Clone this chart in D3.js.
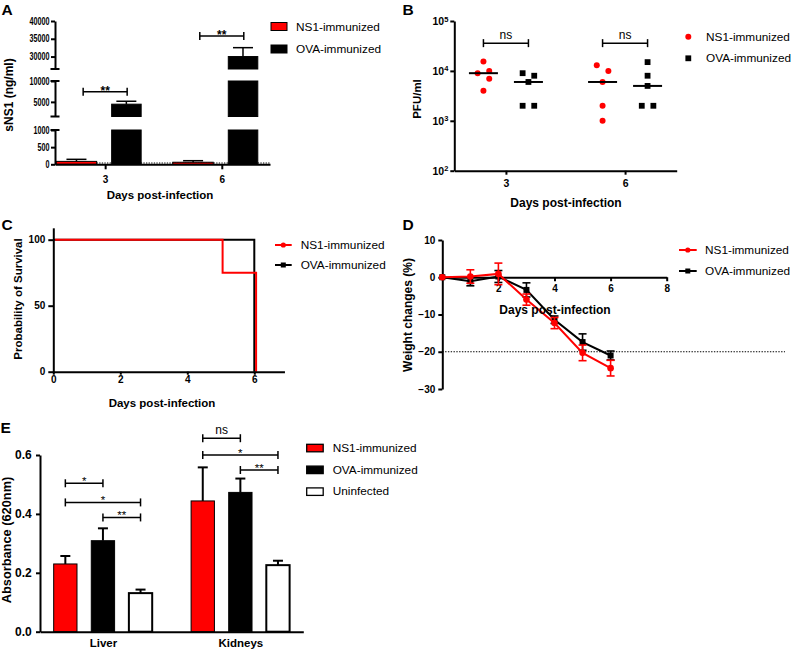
<!DOCTYPE html>
<html><head><meta charset="utf-8">
<script src="https://cdn.jsdelivr.net/npm/d3@7"></script>
<style>
body{margin:0;background:#fff;}
svg{display:block;}
</style></head><body>
<svg id="chart" width="792" height="651"></svg>
<script>
// ---------------- DATA ----------------
const seriesNames = ["NS1-immunized", "OVA-immunized", "Uninfected"];
const seriesColors = ["#ff0000", "#000000", "#ffffff"];

// Panel A: sNS1 (ng/ml)
const aDays = [3, 6];
const aNS1 = [85, 60];
const aNS1Err = [60, 45];
const aOVA = [4450, 30000];
const aOVAErr = [700, 2500];
const aSig = ["**", "**"];
const aSigLevel = [7400, 35800];
const aTicksLow = [0, 500, 1000];
const aTicksMid = [5000, 10000];
const aTicksHigh = [30000, 35000, 40000];

// Panel B: PFU/ml
const bDays = [3, 6];
const bNS1 = [[15400, 9000, 10000, 7000, 4000], [13000, 10000, 6000, 2000, 1000]];
const bOVA = [[9000, 8000, 6000, 2000, 2000], [15000, 8000, 5000, 2000, 2000]];
const bSig = ["ns", "ns"];
const bSigLevel = [36000, 36000];
const bTicks = [100, 1000, 10000, 100000];

// Panel C: survival
const cNS1Time = [0, 5, 6];
const cNS1Surv = [100, 75, 0];
const cOVATime = [0, 6];
const cOVASurv = [100, 0];
const cXTicks = [0, 2, 4, 6];
const cYTicks = [0, 50, 100];

// Panel D: weight change
const dDays = [0, 1, 2, 3, 4, 5, 6];
const dNS1 = [0, 0.2, 0.9, -6, -12.3, -20.3, -24.4];
const dNS1Err = [0, 1.8, 2.9, 1.5, 1.5, 2.1, 2.1];
const dOVA = [0, -1.1, 0.2, -3.4, -11.4, -17.4, -21];
const dOVAErr = [0, 1.2, 1.6, 1.9, 1.0, 2.2, 1.2];
const dXTicks = [2, 4, 6, 8];
const dYTicks = [10, 0, -10, -20, -30];
const dThreshold = -20;

// Panel E: absorbance
const eCats = ["Liver", "Kidneys"];
const eNS1 = [0.23, 0.444];
const eNS1Err = [0.027, 0.114];
const eOVA = [0.309, 0.473];
const eOVAErr = [0.042, 0.047];
const eUninf = [0.131, 0.226];
const eUninfErr = [0.012, 0.015];
const eSigCat = ["Liver", "Liver", "Liver", "Kidneys", "Kidneys", "Kidneys"];
const eSigFrom = [0, 0, 1, 0, 0, 1];
const eSigTo = [1, 2, 2, 1, 2, 2];
const eSigLabel = ["*", "*", "**", "ns", "*", "**"];
const eSigLevel = [0.504, 0.439, 0.388, 0.657, 0.6, 0.549];
const eYTicks = [0, 0.2, 0.4, 0.6];

// ---------------- HELPERS ----------------
const svg = d3.select("#chart");
const FONT = '"Liberation Sans", Arial, Helvetica, sans-serif';
const fmtInt = d3.format("d");
svg.append("rect").attr("width", 792).attr("height", 651).attr("fill", "#fff");

function txt(x, y, s, size, weight, anchor, rot) {
  const t = svg.append("text").attr("font-family", FONT).attr("font-size", size)
    .attr("font-weight", weight || "normal").attr("text-anchor", anchor || "middle")
    .attr("fill", "#000").attr("dy", "0.35em").text(s);
  if (rot) t.attr("transform", `translate(${x},${y}) rotate(-90)`);
  else t.attr("x", x).attr("y", y);
  return t;
}
function panelLetter(x, y, s) {
  svg.append("text").attr("x", x).attr("y", y).attr("font-family", FONT)
    .attr("font-size", 15.5).attr("font-weight", "bold").attr("fill", "#000").text(s);
}
function ln(x1, y1, x2, y2, w, color, dash) {
  const l = svg.append("line").attr("x1", x1).attr("y1", y1).attr("x2", x2).attr("y2", y2)
    .attr("stroke", color || "#000").attr("stroke-width", w || 1.5);
  if (dash) l.attr("stroke-dasharray", dash);
  return l;
}
function styleAxis(g, size, weight) {
  g.attr("font-family", FONT).attr("font-size", size).attr("font-weight", weight || "bold");
  g.select(".domain").attr("stroke", "#000").attr("stroke-width", 2);
  g.selectAll(".tick line").attr("stroke", "#000").attr("stroke-width", 2);
  g.selectAll(".tick text").attr("fill", "#000");
}
function bracket(x1, x2, y, s, size, weight, dyText) {
  ln(x1, y, x2, y, 1.5);
  ln(x1, y - 4, x1, y + 4, 1.5);
  ln(x2, y - 4, x2, y + 4, 1.5);
  svg.append("text").attr("x", (x1 + x2) / 2).attr("y", y + dyText)
    .attr("font-family", FONT).attr("font-size", size).attr("font-weight", weight)
    .attr("text-anchor", "middle").attr("fill", "#000").text(s);
}
function errCap(x, y0, y1, half, w, color) {
  ln(x, y0, x, y1, w, color);
  ln(x - half, y1, x + half, y1, w, color);
}
function legendText(x, y, s) { txt(x, y, s, 11.8, "normal", "start"); }

// ---------------- PANEL A ----------------
panelLetter(1.5, 14.5, "A");
const aX = d3.scaleLinear().domain([1.71, 7.24]).range([55, 270]);
const aSegs = [
  { s: d3.scaleLinear().domain([0, 1000]).range([164.3, 130]), ticks: aTicksLow },
  { s: d3.scaleLinear().domain([1500, 10000]).range([116.5, 81]), ticks: aTicksMid },
  { s: d3.scaleLinear().domain([26500, 40000]).range([69, 21]), ticks: aTicksHigh }
];
function aY(v) {
  for (const seg of aSegs) { const d = seg.s.domain(); if (v <= d[1]) return seg.s(Math.max(v, d[0])); }
  return aSegs[2].s(v);
}
function brokenBar(x, w, v, fill) {
  aSegs.forEach(seg => {
    const d = seg.s.domain();
    if (v > d[0]) {
      const yb = seg.s(d[0]), yt = seg.s(Math.min(v, d[1]));
      svg.append("rect").attr("x", x).attr("y", yt).attr("width", w).attr("height", yb - yt)
        .attr("fill", fill).attr("stroke", "#000").attr("stroke-width", 1);
    }
  });
}
svg.append("line").attr("x1", 55).attr("x2", 270).attr("y1", aY(0) - 1.3).attr("y2", aY(0) - 1.3)
  .attr("stroke", "#000").attr("stroke-width", 1).attr("stroke-dasharray", "1.3,1.3");
aDays.forEach((d, i) => {
  const cx = aX(d);
  brokenBar(cx - 49, 40.5, aNS1[i], seriesColors[0]);
  brokenBar(cx + 6.5, 29.5, aOVA[i], seriesColors[1]);
  errCap(cx - 28.7, aY(aNS1[i]), aY(aNS1[i] + aNS1Err[i]), 10, 1.5, "#000");
  errCap(cx + 21.2, aY(aOVA[i]), aY(aOVA[i] + aOVAErr[i]), 10, 1.5, "#000");
  bracket(cx - 22, cx + 22, aY(aSigLevel[i]), aSig[i], 12, "bold", 3);
});
aSegs.forEach((seg, i) => {
  const g = svg.append("g").attr("transform", "translate(55,0)")
    .call(d3.axisLeft(seg.s).tickValues(seg.ticks).tickSize(4).tickSizeOuter(0).tickPadding(1.5).tickFormat(fmtInt));
  styleAxis(g, 10);
  g.selectAll(".tick text").attr("transform", "scale(0.72,1)").attr("x", -5.5 / 0.72);
  const r = seg.s.range();
  if (i > 0) ln(50.5, r[0], 59.5, r[0], 2);
  if (i < 2) ln(50.5, r[1], 59.5, r[1], 2);
});
{
  const g = svg.append("g").attr("transform", `translate(0,${aY(0)})`)
    .call(d3.axisBottom(aX).tickValues(aDays).tickSize(5).tickSizeOuter(0).tickPadding(7).tickFormat(fmtInt));
  styleAxis(g, 10);
}
txt(9, 95, "sNS1 (ng/ml)", 12, "bold", "middle", true);
txt(160, 195, "Days post-infection", 11.5, "bold");
// legend A
svg.append("rect").attr("x", 271).attr("y", 22.5).attr("width", 16).attr("height", 8).attr("fill", seriesColors[0]).attr("stroke", "#000").attr("stroke-width", 1);
legendText(296, 26.7, seriesNames[0]);
svg.append("rect").attr("x", 271).attr("y", 45).attr("width", 16).attr("height", 8).attr("fill", seriesColors[1]).attr("stroke", "#000").attr("stroke-width", 1);
legendText(296, 49.3, seriesNames[1]);

// ---------------- PANEL B ----------------
panelLetter(402.5, 14.5, "B");
const bX = d3.scaleLinear().domain([1.7, 7.3]).range([454.3, 676.7]);
const bY = d3.scaleLog().domain([100, 100000]).range([170.7, 21]);
function swarm(vals, spacing, thresh) {
  const idx = vals.map((v, i) => i).sort((a, b) => vals[a] - vals[b]);
  const off = new Array(vals.length).fill(0);
  let cluster = [];
  const flush = () => {
    if (cluster.length > 1) cluster.forEach((k, j) => off[k] = (j % 2 === 0 ? 1 : -1) * spacing);
    cluster = [];
  };
  idx.forEach(k => {
    if (cluster.length && Math.abs(bY(vals[k]) - bY(vals[cluster[cluster.length - 1]])) >= thresh) flush();
    cluster.push(k);
  });
  flush();
  return off;
}
bDays.forEach((d, i) => {
  const c1 = bX(d) - 22.5, c2 = bX(d) + 22.5;
  const o1 = swarm(bNS1[i], 5.8, 6), o2 = swarm(bOVA[i], 5.8, 6);
  bNS1[i].forEach((v, k) => svg.append("circle").attr("cx", c1 + o1[k]).attr("cy", bY(v)).attr("r", 3).attr("fill", seriesColors[0]));
  bOVA[i].forEach((v, k) => svg.append("rect").attr("x", c2 + o2[k] - 2.9).attr("y", bY(v) - 2.9).attr("width", 5.8).attr("height", 5.8).attr("fill", "#000"));
  ln(c1 - 14.5, bY(d3.median(bNS1[i])), c1 + 14.5, bY(d3.median(bNS1[i])), 2);
  ln(c2 - 14.5, bY(d3.median(bOVA[i])), c2 + 14.5, bY(d3.median(bOVA[i])), 2);
  bracket(c1, c2, bY(bSigLevel[i]), bSig[i], 12, "normal", -4.3);
});
{
  const gy = svg.append("g").attr("transform", "translate(454.3,0)")
    .call(d3.axisLeft(bY).tickValues(bTicks).tickSize(4).tickSizeOuter(0).tickPadding(2).tickFormat(() => ""));
  styleAxis(gy, 10.5);
  gy.selectAll(".tick text").each(function (d) {
    const t = d3.select(this);
    t.append("tspan").text("10");
    t.append("tspan").attr("dy", "-0.45em").attr("font-size", 7.5).text(Math.round(Math.log10(d)));
  });
  const gx = svg.append("g").attr("transform", "translate(0,170.7)")
    .call(d3.axisBottom(bX).tickValues(bDays).tickSize(4).tickSizeOuter(0).tickPadding(5).tickFormat(fmtInt));
  styleAxis(gx, 10.5);
}
txt(416.7, 99, "PFU/ml", 11.5, "bold", "middle", true);
txt(566, 203, "Days post-infection", 12, "bold");
svg.append("circle").attr("cx", 688.3).attr("cy", 36.7).attr("r", 3).attr("fill", seriesColors[0]);
legendText(706, 37, seriesNames[0]);
svg.append("rect").attr("x", 685.4).attr("y", 55.4).attr("width", 5.8).attr("height", 5.8).attr("fill", "#000");
legendText(706, 58.3, seriesNames[1]);

// ---------------- PANEL C ----------------
panelLetter(1.5, 229.5, "C");
const cX = d3.scaleLinear().domain([0, 6.9]).range([53.3, 53.3 + 6.9 * 33.5]);
const cY = d3.scaleLinear().domain([0, 109]).range([371.7, 371.7 - 109 * 1.32]);
const stepLine = d3.line().curve(d3.curveStepAfter).x(p => cX(p[0])).y(p => cY(p[1]));
const cOVAPts = cOVATime.map((t, i) => [t, cOVASurv[i]]);
const cNS1Pts = cNS1Time.map((t, i) => [t, cNS1Surv[i]]);
svg.append("path").attr("d", stepLine(cOVAPts)).attr("fill", "none").attr("stroke", "#000").attr("stroke-width", 2);
svg.append("path").attr("d", stepLine(cNS1Pts)).attr("fill", "none").attr("stroke", "#ff0000").attr("stroke-width", 2)
  .attr("transform", "translate(1.8,0)");
{
  const gy = svg.append("g").attr("transform", "translate(53.3,0)")
    .call(d3.axisLeft(cY).tickValues(cYTicks).tickSize(5).tickSizeOuter(0).tickPadding(3).tickFormat(fmtInt));
  styleAxis(gy, 10);
  const gx = svg.append("g").attr("transform", "translate(0,371.7)")
    .call(d3.axisBottom(cX).tickValues(cXTicks).tickSize(3).tickSizeOuter(0).tickPadding(1.5).tickFormat(fmtInt));
  styleAxis(gx, 10);
}
txt(17.5, 299, "Probability of Survival", 11.5, "bold", "middle", true);
txt(162, 403, "Days post-infection", 11.5, "bold");
ln(275, 245, 291.7, 245, 2, "#ff0000");
svg.append("circle").attr("cx", 283.3).attr("cy", 245).attr("r", 2.6).attr("fill", "#ff0000");
legendText(300.7, 245, seriesNames[0]);
ln(275, 265, 291.7, 265, 2, "#000");
svg.append("rect").attr("x", 280.8).attr("y", 262.5).attr("width", 5).attr("height", 5).attr("fill", "#000");
legendText(300.7, 265, seriesNames[1]);

// ---------------- PANEL D ----------------
panelLetter(402.5, 229.5, "D");
const dX = d3.scaleLinear().domain([0, 8]).range([442.3, 666.7]);
const dY = d3.scaleLinear().domain([-30, 10]).range([389, 240]);
ln(442.3, dY(dThreshold), 785, dY(dThreshold), 1.2, "#000", "1.4,1.4");
{
  const gy = svg.append("g").attr("transform", "translate(442.3,0)")
    .call(d3.axisLeft(dY).tickValues(dYTicks).tickSize(4).tickSizeOuter(0).tickPadding(3).tickFormat(fmtInt));
  styleAxis(gy, 10);
  const gx = svg.append("g").attr("transform", `translate(0,${dY(0)})`)
    .call(d3.axisBottom(dX).tickValues(dXTicks).tickSize(4).tickSizeOuter(0).tickPadding(4).tickFormat(fmtInt));
  styleAxis(gx, 10);
}
const dLine = d3.line().x((v, i) => dX(dDays[i])).y(v => dY(v));
function dSeries(vals, errs, color, marker) {
  vals.forEach((v, i) => {
    if (errs[i] > 0) {
      const x = dX(dDays[i]);
      ln(x, dY(v - errs[i]), x, dY(v + errs[i]), 1.6, color);
      ln(x - 4, dY(v + errs[i]), x + 4, dY(v + errs[i]), 1.6, color);
      ln(x - 4, dY(v - errs[i]), x + 4, dY(v - errs[i]), 1.6, color);
    }
  });
  svg.append("path").attr("d", dLine(vals)).attr("fill", "none").attr("stroke", color).attr("stroke-width", 2);
  vals.forEach((v, i) => {
    if (marker === "circle") svg.append("circle").attr("cx", dX(dDays[i])).attr("cy", dY(v)).attr("r", 3.3).attr("fill", color);
    else svg.append("rect").attr("x", dX(dDays[i]) - 3).attr("y", dY(v) - 3).attr("width", 6).attr("height", 6).attr("fill", color);
  });
}
dSeries(dOVA, dOVAErr, "#000", "square");
dSeries(dNS1, dNS1Err, "#ff0000", "circle");
txt(408, 315, "Weight changes (%)", 12, "bold", "middle", true);
txt(555, 309.5, "Days post-infection", 12, "bold");
ln(679, 250, 696.7, 250, 2, "#ff0000");
svg.append("circle").attr("cx", 687.8).attr("cy", 250).attr("r", 2.6).attr("fill", "#ff0000");
legendText(705, 250, seriesNames[0]);
ln(679, 271, 696.7, 271, 2, "#000");
svg.append("rect").attr("x", 685.3).attr("y", 268.5).attr("width", 5).attr("height", 5).attr("fill", "#000");
legendText(705, 271, seriesNames[1]);

// ---------------- PANEL E ----------------
panelLetter(0.5, 432.5, "E");
const eX = d3.scalePoint().domain(eCats).range([40, 303.3]).padding(0.458);
const eSub = d3.scaleBand().domain([0, 1, 2]).range([-56.4, 56.4]).paddingInner(0.38).paddingOuter(0.19);
const eY = d3.scaleLinear().domain([0, 0.6]).range([631.7, 455]);
const eVals = [eNS1, eOVA, eUninf], eErrs = [eNS1Err, eOVAErr, eUninfErr];
const bw = eSub.bandwidth();
eCats.forEach((c, ci) => {
  eVals.forEach((arr, si) => {
    const x = eX(c) + eSub(si);
    svg.append("rect").attr("x", x).attr("y", eY(arr[ci])).attr("width", bw).attr("height", eY(0) - eY(arr[ci]))
      .attr("fill", seriesColors[si]).attr("stroke", "#000").attr("stroke-width", si === 2 ? 2 : 1);
    errCap(x + bw / 2, eY(arr[ci]), eY(arr[ci] + eErrs[si][ci]), 5, 2, "#000");
  });
});
eSigLabel.forEach((s, k) => {
  const x1 = eX(eSigCat[k]) + eSub(eSigFrom[k]) + bw / 2;
  const x2 = eX(eSigCat[k]) + eSub(eSigTo[k]) + bw / 2;
  const isNs = s === "ns";
  bracket(x1, x2, eY(eSigLevel[k]), s, isNs ? 12 : 11.5, "normal", isNs ? -4.3 : 1.5);
});
{
  const gy = svg.append("g").attr("transform", "translate(40,0)")
    .call(d3.axisLeft(eY).tickValues(eYTicks).tickSize(4).tickSizeOuter(0).tickPadding(4.3).tickFormat(d3.format(".1f")));
  styleAxis(gy, 12);
  const gx = svg.append("g").attr("transform", "translate(0,631.7)")
    .call(d3.axisBottom(eX).tickSize(0).tickSizeOuter(0).tickPadding(7));
  styleAxis(gx, 11.5);
}
txt(7, 540, "Absorbance (620nm)", 12.8, "bold", "middle", true);
[0, 1, 2].forEach(si => {
  svg.append("rect").attr("x", 306.7).attr("y", 444.3 + si * 21.8).attr("width", 16.5).attr("height", 7.5)
    .attr("fill", seriesColors[si]).attr("stroke", "#000").attr("stroke-width", 1.3);
  legendText(332.7, 448.3 + si * 21.5, seriesNames[si]);
});
</script>
</body></html>
